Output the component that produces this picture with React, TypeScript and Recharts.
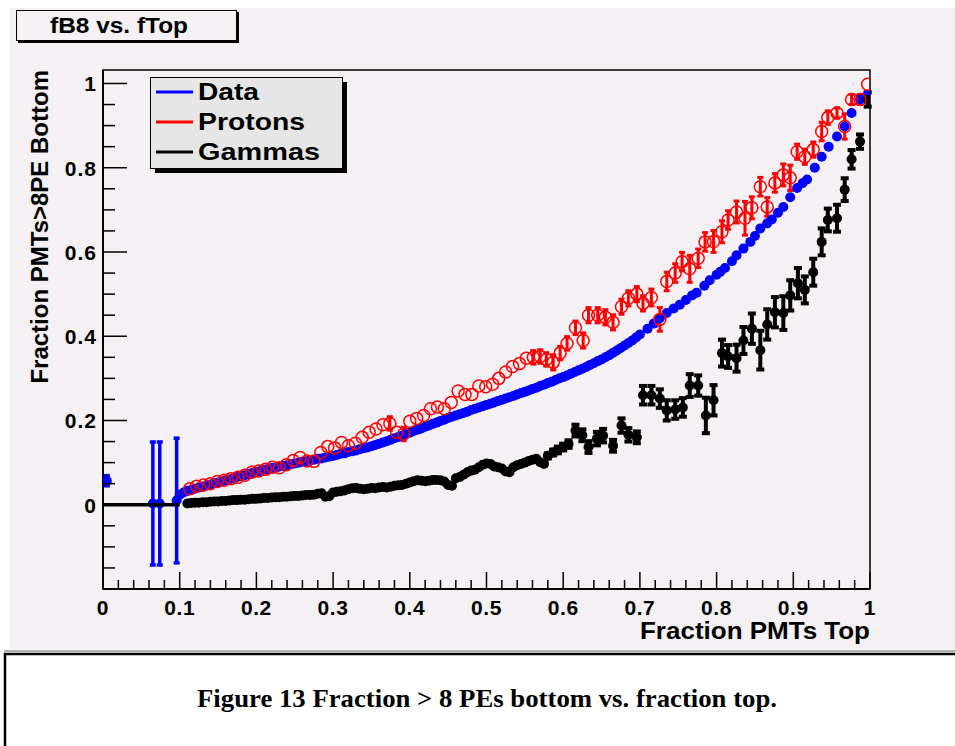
import React from 'react';
import { ScatterChart, Scatter, XAxis, YAxis, ErrorBar, ReferenceArea, Legend } from 'recharts';

type Pt = [number, number, number];

const chartTitle = 'fB8 vs. fTop';
const xTitle = 'Fraction PMTs Top';
const yTitle = 'Fraction PMTs>8PE Bottom';
const caption = 'Figure 13 Fraction > 8 PEs bottom vs. fraction top.';

const seriesNames = ['Data', 'Protons', 'Gammas'];
const seriesColors = ['#0000ff', '#ff0000', '#000000'];

const xTicks = [0, 0.02, 0.04, 0.06, 0.08, 0.1, 0.12, 0.14, 0.16, 0.18, 0.2, 0.22, 0.24, 0.26, 0.28, 0.3, 0.32, 0.34, 0.36, 0.38, 0.4, 0.42, 0.44, 0.46, 0.48, 0.5, 0.52, 0.54, 0.56, 0.58, 0.6, 0.62, 0.64, 0.66, 0.68, 0.7, 0.72, 0.74, 0.76, 0.78, 0.8, 0.82, 0.84, 0.86, 0.88, 0.9, 0.92, 0.94, 0.96, 0.98, 1];
const yTicks = [-0.15, -0.1, -0.05, 0, 0.05, 0.1, 0.15, 0.2, 0.25, 0.3, 0.35, 0.4, 0.45, 0.5, 0.55, 0.6, 0.65, 0.7, 0.75, 0.8, 0.85, 0.9, 0.95, 1];

// Data (blue): [x, y, error]
const dataPoints: Pt[] = [
  [0.005, 0.057, 0.012], [0.065, 0.003, 0.146], [0.074, 0.003, 0.146], [0.096, 0.01, 0.148],
  [0.100, 0.024, 0], [0.105, 0.029, 0], [0.110, 0.033, 0], [0.115, 0.035, 0], [0.120, 0.038, 0],
  [0.125, 0.041, 0], [0.130, 0.043, 0], [0.135, 0.046, 0], [0.140, 0.048, 0], [0.145, 0.051, 0],
  [0.150, 0.053, 0], [0.155, 0.055, 0], [0.160, 0.058, 0], [0.165, 0.060, 0], [0.170, 0.063, 0],
  [0.175, 0.066, 0], [0.180, 0.068, 0], [0.185, 0.070, 0], [0.190, 0.073, 0], [0.195, 0.076, 0],
  [0.200, 0.078, 0], [0.205, 0.080, 0], [0.210, 0.083, 0], [0.215, 0.085, 0], [0.220, 0.087, 0],
  [0.225, 0.088, 0], [0.230, 0.091, 0], [0.235, 0.092, 0], [0.240, 0.094, 0], [0.245, 0.096, 0],
  [0.250, 0.098, 0], [0.255, 0.100, 0], [0.260, 0.102, 0], [0.265, 0.103, 0], [0.270, 0.105, 0],
  [0.275, 0.107, 0], [0.280, 0.109, 0], [0.285, 0.110, 0], [0.290, 0.112, 0], [0.295, 0.114, 0],
  [0.300, 0.116, 0], [0.305, 0.118, 0], [0.310, 0.121, 0], [0.315, 0.122, 0], [0.320, 0.125, 0],
  [0.325, 0.127, 0], [0.330, 0.129, 0], [0.335, 0.132, 0], [0.340, 0.134, 0], [0.345, 0.136, 0],
  [0.350, 0.139, 0], [0.355, 0.142, 0], [0.360, 0.145, 0], [0.365, 0.148, 0], [0.370, 0.151, 0],
  [0.375, 0.154, 0], [0.380, 0.158, 0], [0.385, 0.161, 0], [0.390, 0.164, 0], [0.395, 0.168, 0],
  [0.400, 0.171, 0], [0.405, 0.175, 0], [0.410, 0.178, 0], [0.415, 0.181, 0], [0.420, 0.185, 0],
  [0.425, 0.188, 0], [0.430, 0.192, 0], [0.435, 0.195, 0], [0.440, 0.199, 0], [0.445, 0.202, 0],
  [0.450, 0.206, 0], [0.455, 0.209, 0], [0.460, 0.212, 0], [0.465, 0.215, 0], [0.470, 0.218, 0],
  [0.475, 0.221, 0], [0.480, 0.225, 0], [0.485, 0.228, 0], [0.490, 0.231, 0], [0.495, 0.234, 0],
  [0.500, 0.237, 0], [0.505, 0.240, 0], [0.510, 0.243, 0], [0.515, 0.246, 0], [0.520, 0.249, 0],
  [0.525, 0.252, 0], [0.530, 0.255, 0], [0.535, 0.258, 0], [0.540, 0.262, 0], [0.545, 0.265, 0],
  [0.550, 0.268, 0], [0.555, 0.271, 0], [0.560, 0.275, 0], [0.565, 0.278, 0], [0.570, 0.282, 0],
  [0.575, 0.285, 0], [0.580, 0.289, 0], [0.585, 0.292, 0], [0.590, 0.296, 0], [0.595, 0.300, 0],
  [0.600, 0.303, 0], [0.605, 0.307, 0], [0.610, 0.311, 0], [0.615, 0.315, 0], [0.620, 0.319, 0],
  [0.625, 0.323, 0], [0.630, 0.327, 0], [0.635, 0.332, 0], [0.640, 0.336, 0], [0.645, 0.341, 0],
  [0.650, 0.345, 0], [0.655, 0.350, 0], [0.660, 0.355, 0], [0.665, 0.361, 0], [0.670, 0.366, 0],
  [0.675, 0.372, 0], [0.680, 0.378, 0], [0.685, 0.384, 0], [0.690, 0.390, 0], [0.695, 0.397, 0],
  [0.700, 0.404, 0], [0.710, 0.418, 0.003], [0.718, 0.430, 0.003], [0.726, 0.443, 0.003],
  [0.735, 0.455, 0.003], [0.744, 0.466, 0.003], [0.752, 0.475, 0.003], [0.760, 0.486, 0.003],
  [0.768, 0.497, 0.003], [0.774, 0.503, 0.003], [0.784, 0.520, 0.003], [0.791, 0.533, 0.003],
  [0.800, 0.546, 0.003], [0.805, 0.553, 0.003], [0.811, 0.562, 0.003], [0.820, 0.578, 0.003],
  [0.826, 0.592, 0.003], [0.835, 0.608, 0.003], [0.844, 0.624, 0.003], [0.850, 0.638, 0.003],
  [0.857, 0.656, 0.003], [0.866, 0.668, 0.003], [0.872, 0.677, 0.003], [0.880, 0.693, 0.003],
  [0.887, 0.707, 0.003], [0.896, 0.730, 0.003], [0.905, 0.752, 0.003], [0.912, 0.763, 0.003],
  [0.918, 0.772, 0.003], [0.928, 0.800, 0.003], [0.937, 0.826, 0.003], [0.946, 0.850, 0.003],
  [0.957, 0.874, 0.003], [0.967, 0.898, 0.003], [0.976, 0.930, 0.003], [0.987, 0.962, 0.003],
  [0.997, 0.974, 0.003],
];

// Protons (red open circles)
const protonPoints: Pt[] = [
  [0.113, 0.038, 0], [0.122, 0.044, 0], [0.131, 0.047, 0], [0.140, 0.050, 0],
  [0.149, 0.055, 0], [0.158, 0.058, 0], [0.167, 0.062, 0], [0.176, 0.065, 0],
  [0.185, 0.070, 0], [0.194, 0.077, 0], [0.203, 0.080, 0], [0.212, 0.084, 0],
  [0.221, 0.089, 0], [0.230, 0.088, 0], [0.239, 0.095, 0], [0.248, 0.105, 0],
  [0.257, 0.112, 0], [0.266, 0.104, 0], [0.275, 0.103, 0], [0.284, 0.124, 0],
  [0.293, 0.138, 0], [0.302, 0.135, 0], [0.311, 0.148, 0], [0.320, 0.140, 0],
  [0.329, 0.146, 0], [0.338, 0.160, 0], [0.347, 0.172, 0], [0.356, 0.180, 0],
  [0.365, 0.190, 0], [0.374, 0.193, 0.016], [0.383, 0.172, 0], [0.392, 0.168, 0.016],
  [0.400, 0.198, 0], [0.409, 0.205, 0], [0.418, 0.212, 0], [0.427, 0.228, 0],
  [0.436, 0.232, 0], [0.445, 0.228, 0], [0.454, 0.243, 0], [0.463, 0.270, 0],
  [0.472, 0.262, 0], [0.481, 0.262, 0], [0.490, 0.282, 0], [0.499, 0.280, 0],
  [0.508, 0.286, 0], [0.516, 0.300, 0], [0.525, 0.315, 0], [0.534, 0.328, 0],
  [0.543, 0.335, 0], [0.552, 0.348, 0], [0.561, 0.350, 0.016], [0.570, 0.352, 0.016],
  [0.578, 0.345, 0.016], [0.587, 0.338, 0.018], [0.596, 0.360, 0.016], [0.605, 0.383, 0.016],
  [0.616, 0.420, 0.016], [0.626, 0.390, 0.018], [0.633, 0.450, 0.018], [0.645, 0.450, 0.018],
  [0.655, 0.445, 0.018], [0.665, 0.433, 0.018], [0.676, 0.470, 0.018], [0.685, 0.490, 0.018],
  [0.696, 0.500, 0.018], [0.704, 0.478, 0.018], [0.715, 0.492, 0.020], [0.726, 0.440, 0.028],
  [0.735, 0.530, 0.022], [0.746, 0.550, 0.022], [0.755, 0.577, 0.022], [0.765, 0.560, 0.032],
  [0.776, 0.585, 0.022], [0.785, 0.624, 0.022], [0.796, 0.625, 0.026], [0.807, 0.648, 0.026],
  [0.815, 0.676, 0.022], [0.826, 0.695, 0.026], [0.837, 0.680, 0.040], [0.846, 0.705, 0.026],
  [0.857, 0.755, 0.022], [0.866, 0.707, 0.022], [0.876, 0.764, 0.022], [0.887, 0.783, 0.026],
  [0.896, 0.776, 0.030], [0.905, 0.838, 0.018], [0.915, 0.826, 0.018], [0.926, 0.843, 0.018],
  [0.937, 0.886, 0.022], [0.945, 0.919, 0.016], [0.957, 0.930, 0.012], [0.967, 0.898, 0.030],
  [0.976, 0.962, 0.012], [0.987, 0.962, 0.012], [0.997, 0.998, 0],
];

// Gammas (black filled circles)
const gammaPoints: Pt[] = [
  [0.110, 0.003, 0], [0.115, 0.004, 0], [0.120, 0.005, 0], [0.125, 0.005, 0], [0.130, 0.006, 0],
  [0.135, 0.006, 0], [0.140, 0.007, 0], [0.145, 0.008, 0], [0.150, 0.008, 0], [0.155, 0.009, 0],
  [0.160, 0.009, 0], [0.165, 0.010, 0], [0.170, 0.011, 0], [0.175, 0.011, 0], [0.180, 0.012, 0],
  [0.185, 0.012, 0], [0.190, 0.013, 0], [0.195, 0.014, 0], [0.200, 0.014, 0], [0.205, 0.015, 0],
  [0.210, 0.016, 0], [0.215, 0.016, 0], [0.220, 0.017, 0], [0.225, 0.018, 0], [0.230, 0.018, 0],
  [0.235, 0.019, 0], [0.240, 0.019, 0], [0.245, 0.020, 0], [0.250, 0.021, 0], [0.255, 0.021, 0],
  [0.260, 0.022, 0], [0.265, 0.023, 0], [0.270, 0.023, 0], [0.275, 0.024, 0], [0.280, 0.026, 0],
  [0.285, 0.027, 0], [0.290, 0.019, 0], [0.295, 0.020, 0], [0.300, 0.029, 0], [0.305, 0.031, 0],
  [0.310, 0.032, 0], [0.315, 0.034, 0], [0.320, 0.037, 0], [0.325, 0.039, 0], [0.330, 0.040, 0],
  [0.335, 0.038, 0], [0.340, 0.037, 0], [0.345, 0.038, 0], [0.350, 0.040, 0], [0.355, 0.039, 0],
  [0.360, 0.041, 0], [0.365, 0.042, 0], [0.370, 0.041, 0], [0.375, 0.043, 0], [0.380, 0.045, 0],
  [0.385, 0.046, 0], [0.390, 0.047, 0], [0.395, 0.050, 0], [0.400, 0.053, 0], [0.405, 0.056, 0],
  [0.410, 0.058, 0], [0.415, 0.057, 0], [0.420, 0.056, 0], [0.425, 0.057, 0], [0.430, 0.059, 0],
  [0.435, 0.059, 0], [0.440, 0.058, 0], [0.445, 0.055, 0], [0.450, 0.047, 0], [0.455, 0.045, 0],
  [0.460, 0.063, 0], [0.465, 0.066, 0], [0.470, 0.071, 0], [0.475, 0.077, 0], [0.480, 0.081, 0],
  [0.485, 0.083, 0], [0.490, 0.089, 0], [0.495, 0.095, 0], [0.500, 0.098, 0], [0.505, 0.097, 0],
  [0.510, 0.091, 0], [0.515, 0.089, 0], [0.520, 0.086, 0], [0.525, 0.079, 0], [0.530, 0.077, 0],
  [0.535, 0.089, 0], [0.540, 0.094, 0], [0.545, 0.097, 0], [0.550, 0.100, 0], [0.555, 0.104, 0],
  [0.560, 0.107, 0], [0.565, 0.109, 0], [0.570, 0.101, 0], [0.575, 0.097, 0],
  [0.580, 0.116, 0.006], [0.587, 0.124, 0.007], [0.593, 0.130, 0.008], [0.600, 0.137, 0.008],
  [0.607, 0.144, 0.009], [0.616, 0.176, 0.014], [0.625, 0.165, 0.014], [0.633, 0.137, 0.014],
  [0.644, 0.157, 0.016], [0.652, 0.164, 0.016], [0.665, 0.140, 0.014], [0.676, 0.188, 0.017],
  [0.685, 0.166, 0.016], [0.696, 0.160, 0.014], [0.704, 0.260, 0.022], [0.715, 0.260, 0.022],
  [0.726, 0.252, 0.022], [0.735, 0.224, 0.024], [0.746, 0.226, 0.022], [0.756, 0.231, 0.022],
  [0.765, 0.283, 0.027], [0.776, 0.283, 0.024], [0.786, 0.212, 0.042], [0.796, 0.248, 0.036],
  [0.807, 0.360, 0.032], [0.815, 0.352, 0.027], [0.826, 0.348, 0.032], [0.835, 0.390, 0.032],
  [0.846, 0.418, 0.036], [0.857, 0.367, 0.046], [0.866, 0.428, 0.036], [0.876, 0.457, 0.036],
  [0.887, 0.455, 0.040], [0.896, 0.497, 0.036], [0.906, 0.526, 0.036], [0.915, 0.510, 0.032],
  [0.926, 0.552, 0.032], [0.937, 0.624, 0.032], [0.945, 0.676, 0.027], [0.957, 0.680, 0.032],
  [0.967, 0.748, 0.027], [0.976, 0.820, 0.022], [0.987, 0.862, 0.017], [0.997, 0.962, 0.017],
];

// Gammas with zero content below 0.1 (drawn as a line)
const gammaZeroPoints: [number, number][] = [[0, 0], [0.1, 0]];

const toRows = (pts: Pt[]) => pts.map(([x, y, e]) => ({ x, y, e }));
const dataRows = toRows(dataPoints);
const protonRows = toRows(protonPoints);
const gammaRows = toRows(gammaPoints);
const gammaZeroRows = gammaZeroPoints.map(([x, y]) => ({ x, y }));

const FONT = '"Liberation Sans", Arial, Helvetica, sans-serif';
const CANVAS = '#f4f0f4';

const fmt = (v: number) => (Math.abs(v) < 1e-9 ? '0' : Math.abs(v - 1) < 1e-9 ? '1' : v.toFixed(1));

const XTick = (props: any) => {
  const { x, y, payload } = props;
  const v = payload.value as number;
  const major = Math.abs(v * 10 - Math.round(v * 10)) < 1e-6;
  return (
    <g>
      <line x1={x} x2={x} y1={y} y2={y - (major ? 17 : 9)} stroke="#000" strokeWidth={1.5} />
      {major && (
        <text x={x} y={y + 26} textAnchor="middle" fontFamily={FONT} fontWeight="bold" fontSize={21}
          letterSpacing={0.6} fill="#000">
          {fmt(v)}
        </text>
      )}
    </g>
  );
};

const YTick = (props: any) => {
  const { x, y, payload } = props;
  const v = payload.value as number;
  const major = Math.abs(v * 5 - Math.round(v * 5)) < 1e-6;
  return (
    <g>
      <line x1={x} x2={x + (major ? 24 : 12)} y1={y} y2={y} stroke="#000" strokeWidth={1.5} />
      {major && (
        <text x={x - 6} y={y + 8} textAnchor="end" fontFamily={FONT} fontWeight="bold" fontSize={21}
          letterSpacing={1} fill="#000">
          {fmt(v)}
        </text>
      )}
    </g>
  );
};

const XTitle = (props: any) => {
  const vb = props.viewBox || {};
  return (
    <text x={vb.x + vb.width} y={vb.y + 50} textAnchor="end" fontFamily={FONT} fontWeight="bold" fontSize={23}
      textLength={230} lengthAdjust="spacingAndGlyphs" fill="#000">
      {xTitle}
    </text>
  );
};

const YTitle = (props: any) => {
  const vb = props.viewBox || {};
  const cx = 48;
  const ty = vb.y;
  return (
    <text x={cx} y={ty} transform={`rotate(-90 ${cx} ${ty})`} textAnchor="end" fontFamily={FONT} fontWeight="bold"
      fontSize={24} fill="#000">
      {yTitle}
    </text>
  );
};

const legendTextWidths = [61, 107, 122];

const LegendBox = (props: any) => {
  const payload: any[] = props.payload || [];
  return (
    <svg width={200} height={100} style={{ display: 'block' }}>
      <rect x={5} y={5} width={192} height={91} fill="#000" />
      <rect x={0.5} y={0.5} width={192} height={91} fill="#e6e6e6" stroke="#000" strokeWidth={1} />
      {seriesNames.map((name, i) => {
        const item = payload.find((p) => p.value === name);
        const color = (item && item.color) || seriesColors[i];
        const cy = 15 + i * 30;
        return (
          <g key={name}>
            <line x1={6} x2={43} y1={cy} y2={cy} stroke={color} strokeWidth={3} />
            <text x={48} y={cy + 8} fontFamily={FONT} fontWeight="bold" fontSize={24} fill="#000"
              textLength={legendTextWidths[i]} lengthAdjust="spacingAndGlyphs">
              {name}
            </text>
          </g>
        );
      })}
    </svg>
  );
};

const blueDot = (p: any) => <circle cx={p.cx} cy={p.cy} r={5} fill={seriesColors[0]} />;
const redRing = (p: any) => (
  <circle cx={p.cx} cy={p.cy} r={6} fill="none" stroke={seriesColors[1]} strokeWidth={1.5} />
);
const blackDot = (p: any) => <circle cx={p.cx} cy={p.cy} r={5} fill={seriesColors[2]} />;
const noDot = () => <g />;

export default function App() {
  return (
    <div style={{ position: 'absolute', left: 0, top: 0, width: 955, height: 746, background: '#ffffff', overflow: 'hidden' }}>
      <div style={{ position: 'absolute', left: 10, top: 8, width: 945, height: 641, background: CANVAS }} />
      <svg width={955} height={746} style={{ position: 'absolute', left: 0, top: 0 }}>
        <line x1={4} x2={955} y1={651} y2={651} stroke="#b0b0b0" strokeWidth={2} />
        <rect x={5} y={654} width={960} height={100} fill="#ffffff" stroke="#000" strokeWidth={2.5} />
        <text x={487} y={707} textAnchor="middle" fontFamily='"Liberation Serif", "Times New Roman", serif'
          fontWeight="bold" fontSize={26} fill="#000" textLength={580} lengthAdjust="spacingAndGlyphs">
          {caption}
        </text>
        <rect x={18} y={12} width={221} height={31} fill="#000" />
        <rect x={16.5} y={10.5} width={220} height={30} fill={CANVAS} stroke="#000" strokeWidth={1} />
        <text x={119} y={33} textAnchor="middle" fontFamily={FONT} fontWeight="bold" fontSize={22} fill="#000"
          textLength={138} lengthAdjust="spacingAndGlyphs">
          {chartTitle}
        </text>
      </svg>
      <div style={{ position: 'absolute', left: 0, top: 0 }}>
        <ScatterChart width={955} height={650} margin={{ top: 70, right: 85, bottom: 0, left: 0 }}>
          <XAxis dataKey="x" type="number" domain={[0, 1]} ticks={xTicks} interval={0} tickSize={0} tickMargin={0}
            tickLine={false} tick={XTick} axisLine={{ stroke: '#000', strokeWidth: 2 }} height={61}
            allowDataOverflow label={XTitle} />
          <YAxis dataKey="y" type="number" domain={[-0.2, 1.032]} ticks={yTicks} interval={0} tickSize={0}
            tickMargin={0} tickLine={false} tick={YTick} axisLine={{ stroke: '#000', strokeWidth: 2 }} width={103}
            allowDataOverflow label={YTitle} />
          <ReferenceArea x1={0} x2={1} y1={-0.2} y2={1.032} fill="none" stroke="#000" strokeWidth={1.5} />
          <Legend layout="vertical" align="center" verticalAlign="middle" content={LegendBox}
            wrapperStyle={{ position: 'absolute', left: 150, top: 77, width: 200, height: 100 }} />
          <Scatter name="Data" data={dataRows} fill={seriesColors[0]} shape={blueDot} isAnimationActive={false}>
            <ErrorBar dataKey="e" direction="y" width={3} strokeWidth={3.5} stroke={seriesColors[0]} />
          </Scatter>
          <Scatter name="GammasZero" data={gammaZeroRows} fill={seriesColors[2]} shape={noDot} legendType="none"
            line={{ stroke: '#000', strokeWidth: 3.5 }} isAnimationActive={false} />
          <Scatter name="Gammas" data={gammaRows} fill={seriesColors[2]} shape={blackDot} isAnimationActive={false}>
            <ErrorBar dataKey="e" direction="y" width={4} strokeWidth={4} stroke={seriesColors[2]} />
          </Scatter>
          <Scatter name="Protons" data={protonRows} fill={seriesColors[1]} shape={redRing} isAnimationActive={false}>
            <ErrorBar dataKey="e" direction="y" width={3} strokeWidth={3} stroke={seriesColors[1]} />
          </Scatter>
        </ScatterChart>
      </div>
    </div>
  );
}
